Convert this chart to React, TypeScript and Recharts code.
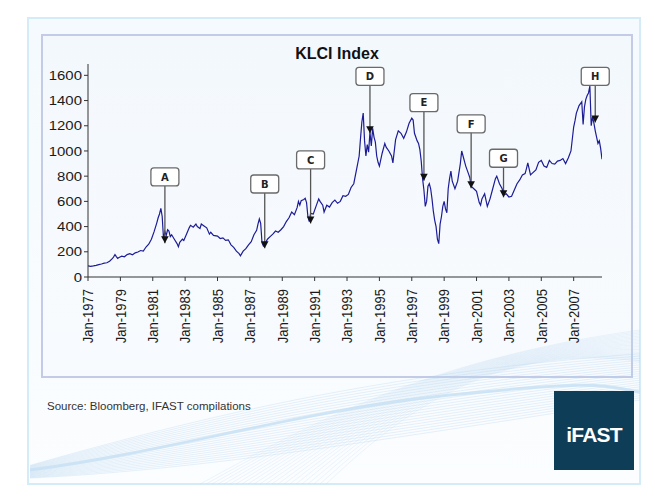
import React from 'react';
import { LineChart, Line, XAxis, YAxis, ReferenceLine, ReferenceDot } from 'recharts';

const months = [
  '1977-01','1977-03','1977-05','1977-07','1977-09','1977-11',
  '1978-01','1978-03','1978-05','1978-07','1978-08','1978-09','1978-10','1978-11','1978-12',
  '1979-02','1979-04','1979-06','1979-08','1979-10','1979-12',
  '1980-02','1980-04','1980-06','1980-08','1980-10','1980-12',
  '1981-02','1981-04','1981-05','1981-06','1981-07','1981-08','1981-09','1981-10','1981-11','1981-12',
  '1982-01','1982-02','1982-03','1982-05','1982-07','1982-08','1982-09','1982-11','1982-12',
  '1983-02','1983-04','1983-05','1983-07','1983-09','1983-10','1983-12',
  '1984-01','1984-03','1984-05','1984-07','1984-08','1984-10',
  '1985-01','1985-03','1985-05','1985-07','1985-09','1985-11',
  '1986-01','1986-03','1986-05','1986-06','1986-08','1986-10','1986-12',
  '1987-02','1987-04','1987-06','1987-07','1987-08','1987-09','1987-10','1987-11','1987-12',
  '1988-02','1988-04','1988-06','1988-08','1988-10','1988-12',
  '1989-02','1989-04','1989-06','1989-08','1989-10','1989-12',
  '1990-01','1990-02','1990-03','1990-05','1990-06','1990-07','1990-08','1990-09','1990-10','1990-12',
  '1991-02','1991-04','1991-05','1991-07','1991-08','1991-10','1991-12',
  '1992-02','1992-04','1992-06','1992-08','1992-10','1992-12',
  '1993-02','1993-04','1993-06','1993-08','1993-10','1993-11','1993-12',
  '1994-01','1994-02','1994-03','1994-04','1994-05','1994-06','1994-07','1994-08','1994-09','1994-10','1994-11','1994-12',
  '1995-01','1995-03','1995-05','1995-06','1995-08','1995-10','1995-11',
  '1996-01','1996-03','1996-05','1996-07','1996-09','1996-11',
  '1997-01','1997-02','1997-03','1997-05','1997-06','1997-07','1997-08','1997-09','1997-10','1997-11','1997-12',
  '1998-01','1998-02','1998-03','1998-04','1998-05','1998-06','1998-07','1998-08','1998-09','1998-10','1998-11','1998-12',
  '1999-01','1999-02','1999-03','1999-04','1999-05','1999-06','1999-07','1999-09','1999-11',
  '2000-01','2000-02','2000-03','2000-05','2000-07','2000-08','2000-09','2000-11',
  '2001-01','2001-03','2001-04','2001-05','2001-07','2001-09','2001-11',
  '2002-01','2002-03','2002-04','2002-06','2002-08','2002-09','2002-11',
  '2003-01','2003-03','2003-05','2003-07','2003-09','2003-11',
  '2004-01','2004-02','2004-03','2004-05','2004-07','2004-09','2004-11',
  '2005-01','2005-03','2005-05','2005-07','2005-09','2005-11',
  '2006-01','2006-03','2006-05','2006-07','2006-09','2006-11',
  '2007-01','2007-02','2007-03','2007-05','2007-07','2007-08','2007-09','2007-10','2007-11','2007-12',
  '2008-01','2008-02','2008-03','2008-04','2008-05','2008-06','2008-07','2008-08','2008-09','2008-10',
];

const klciValues = [
  88, 85, 88, 92, 98, 103,
  110, 113, 125, 145, 160, 178, 162, 148, 155,
  165, 160, 178, 185, 176, 192,
  198, 210, 205, 238, 260, 300,
  360, 430, 470, 500, 545, 480, 300, 360, 330, 375,
  365, 320, 335, 300, 265, 240, 275, 300, 290,
  340, 390, 410, 395, 420, 400, 385,
  420, 405, 390, 340, 355, 330,
  325, 305, 310, 290, 295, 255,
  235, 205, 185, 168, 205, 225, 255,
  280, 335, 370, 420, 460, 425, 270, 245, 260,
  300, 320, 340, 365, 355, 375,
  400, 440, 470, 515, 495, 550,
  600, 570, 605, 615, 625, 590, 480, 440, 505, 500,
  560, 620, 600, 570, 515, 570, 555,
  590, 610, 585, 600, 645, 640,
  655, 710, 740, 850, 960, 1100, 1230,
  1300, 1080, 960, 1050, 990, 1150, 1040, 1180, 1110, 1070, 960, 910,
  880, 980, 1060, 1030, 1000, 960, 905,
  1090, 1160, 1140, 1100, 1150, 1220,
  1260, 1245, 1140, 1080, 1060, 1010, 920, 780, 690, 560, 600,
  720, 740, 700, 620, 520, 450, 400, 300, 265, 420, 480, 560,
  600, 540, 510, 700, 780, 840, 760, 700, 760,
  900, 1000, 960, 880, 820, 790, 720, 700,
  680, 590, 570, 620, 660, 560, 620,
  700, 780, 800, 740, 700, 650, 660,
  635, 640, 690, 740, 770, 810,
  820, 860, 905, 810, 830, 850, 910,
  925, 880, 870, 925, 900, 895,
  920, 925, 940, 900, 945, 1000,
  1190, 1240, 1300, 1360, 1390, 1210, 1350, 1410, 1440, 1460,
  1515, 1200, 1270, 1220, 1160, 1110, 1060, 1080, 1020, 935,
];

const yTicks = [0, 200, 400, 600, 800, 1000, 1200, 1400, 1600];
const xTickYears = [1977, 1979, 1981, 1983, 1985, 1987, 1989, 1991, 1993, 1995, 1997, 1999, 2001, 2003, 2005, 2007];
const xTickLabels = [
  'Jan-1977', 'Jan-1979', 'Jan-1981', 'Jan-1983', 'Jan-1985', 'Jan-1987', 'Jan-1989', 'Jan-1991',
  'Jan-1993', 'Jan-1995', 'Jan-1997', 'Jan-1999', 'Jan-2001', 'Jan-2003', 'Jan-2005', 'Jan-2007',
];

const annLabels = ['A', 'B', 'C', 'D', 'E', 'F', 'G', 'H'];
const annMonths = ['1981-10', '1987-12', '1990-10', '1994-06', '1997-10', '2000-09', '2002-09', '2008-05'];
const annTipValues = [268, 228, 425, 1141, 764, 704, 632, 1226];
const annBoxValues = [794, 738, 929, 1592, 1383, 1215, 942, 1592];

const toYear = (m: string) => {
  const [y, mo] = m.split('-').map(Number);
  return y + (mo - 1) / 12;
};

const data = months.map((m, i) => ({ t: toYear(m), v: klciValues[i] }));

const FONT = '"Liberation Sans", Arial, sans-serif';

const YTick = (props: any) => {
  const { x, y, payload } = props;
  return (
    <g transform={`translate(${x},${y}) scale(1.15,1)`}>
      <text x={0} y={0} dy={4.6} textAnchor="end" fontSize={13} fontFamily={FONT} fill="#1a1a1a">
        {payload.value}
      </text>
    </g>
  );
};

const XTick = (props: any) => {
  const { x, y, payload } = props;
  const idx = xTickYears.indexOf(payload.value);
  return (
    <g transform={`translate(${x},${y + 6}) scale(1.15,1) rotate(-90)`}>
      <text x={0} y={0} dy={4.6} textAnchor="end" fontSize={13} fontFamily={FONT} fill="#1a1a1a">
        {idx >= 0 ? xTickLabels[idx] : ''}
      </text>
    </g>
  );
};

const swooshLines = Array.from({ length: 22 }, (_, k) => k);

export default function App() {
  return (
    <div style={{ position: 'fixed', left: 0, top: 0, width: 655, height: 499, background: '#ffffff', overflow: 'hidden' }}>
      <svg width={655} height={499} style={{ position: 'absolute', left: 0, top: 0 }}>
        <defs>
          <linearGradient id="outerG" x1="0" y1="0" x2="0" y2="1">
            <stop offset="0" stopColor="#f4fafd" />
            <stop offset="1" stopColor="#fbfdff" />
          </linearGradient>
          <linearGradient id="innerG" x1="0" y1="0" x2="0" y2="1">
            <stop offset="0" stopColor="#f3f8fd" />
            <stop offset="1" stopColor="#f8fbfe" />
          </linearGradient>
        </defs>
        <rect x={28} y={18} width={612} height={466} fill="url(#outerG)" stroke="#d3ecf7" strokeWidth={2} />
        <rect x={42} y={35} width={590} height={342} fill="url(#innerG)" stroke="#c4cbe7" strokeWidth={2} />
        {swooshLines.map((k) => (
          <path
            key={'s' + k}
            d={`M ${30} ${478 - k * 0.6} C ${200} ${470 - k * 2.5}, ${380} ${440 - k * 3.2}, ${640} ${400 - k * 2.2}`}
            fill="none"
            stroke="#a9cbe8"
            strokeOpacity={0.35}
            strokeWidth={0.8}
          />
        ))}
        {swooshLines.map((k) => (
          <path
            key={'r' + k}
            d={`M ${200 + k * 6} ${484} C ${300 + k * 4} ${430}, ${420 + k * 3} ${360 - k}, ${640} ${330 + k * 1.5}`}
            fill="none"
            stroke="#b7d5ee"
            strokeOpacity={0.3}
            strokeWidth={0.8}
          />
        ))}
        <path d="M 30 470 C 180 450, 300 410, 450 395 S 600 385, 640 392" fill="none" stroke="#c6e0f4" strokeWidth={3} strokeOpacity={0.8} />
        <text x={47} y={410} fontSize={11.5} fontFamily={FONT} fill="#333">
          Source: Bloomberg, IFAST compilations
        </text>
        <rect x={554} y={391} width={80} height={79} fill="#0e3d58" />
        <text x={594} y={442} textAnchor="middle" fontSize={21} fontWeight="bold" fontFamily={FONT} fill="#ffffff" letterSpacing={-0.8}>
          iFAST
        </text>
        <text x={337} y={58.5} textAnchor="middle" fontSize={16} fontWeight="bold" fontFamily={FONT} fill="#111">
          KLCI Index
        </text>
      </svg>
      <div style={{ position: 'absolute', left: 0, top: 0 }}>
        <LineChart width={655} height={499} data={data} margin={{ top: 64, right: 53, bottom: 162, left: 0 }}>
          <XAxis
            dataKey="t"
            type="number"
            domain={[1977, 2008.75]}
            ticks={xTickYears}
            interval={0}
            tick={<XTick />}
            tickSize={4}
            height={60}
            axisLine={{ stroke: '#333', strokeWidth: 1 }}
            tickLine={{ stroke: '#333' }}
            allowDataOverflow
          />
          <YAxis
            domain={[0, 1690]}
            ticks={yTicks}
            interval={0}
            width={88}
            tick={<YTick />}
            tickSize={4}
            axisLine={{ stroke: '#333', strokeWidth: 1 }}
            tickLine={{ stroke: '#333' }}
            allowDataOverflow
          />
          <Line type="linear" dataKey="v" stroke="#1c1c96" strokeWidth={1.2} dot={false} isAnimationActive={false} />
          {annLabels.map((l, i) => (
            <ReferenceLine
              key={'al' + l}
              segment={[
                { x: toYear(annMonths[i]), y: annBoxValues[i] },
                { x: toYear(annMonths[i]), y: annTipValues[i] },
              ]}
              stroke="#555"
              strokeWidth={1.3}
              ifOverflow="visible"
            />
          ))}
          {annLabels.map((l, i) => (
            <ReferenceDot
              key={'at' + l}
              x={toYear(annMonths[i])}
              y={annTipValues[i]}
              r={3}
              ifOverflow="visible"
              shape={(p: any) => (
                <path d={`M ${p.cx - 3.8} ${p.cy - 7} L ${p.cx + 3.8} ${p.cy - 7} L ${p.cx} ${p.cy} Z`} fill="#111" />
              )}
            />
          ))}
          {annLabels.map((l, i) => (
            <ReferenceDot
              key={'ab' + l}
              x={toYear(annMonths[i])}
              y={annBoxValues[i]}
              r={3}
              ifOverflow="visible"
              shape={(p: any) => (
                <g>
                  <rect x={p.cx - 14} y={p.cy - 9} width={28} height={18} rx={3} ry={3} fill="#ffffff" stroke="#6a6a6a" strokeWidth={1.3} />
                  <text x={p.cx} y={p.cy + 3.8} textAnchor="middle" fontSize={10} fontWeight="bold" fontFamily={'"DejaVu Sans", Verdana, sans-serif'} fill="#222">
                    {l}
                  </text>
                </g>
              )}
            />
          ))}
        </LineChart>
      </div>
    </div>
  );
}
